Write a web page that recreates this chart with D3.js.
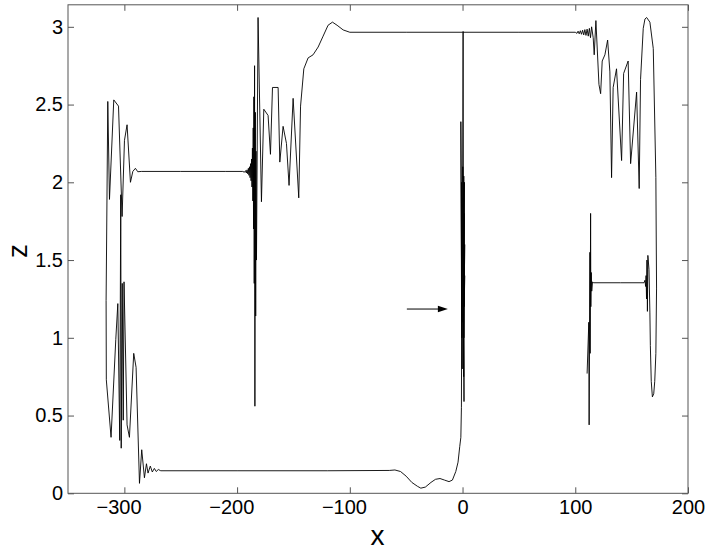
<!DOCTYPE html>
<html>
<head>
<meta charset="utf-8">
<script src="https://cdn.jsdelivr.net/npm/d3@7"></script>
<style>
  html, body { margin: 0; padding: 0; background: #fff; }
  svg { display: block; font-family: "Liberation Sans", Arial, Helvetica, sans-serif; }
</style>
</head>
<body>
<svg id="chart" width="711" height="553"></svg>
<script>
// ---------------- data ----------------
const xTicks = [-300, -200, -100, 0, 100, 200];
const xTickLabels = ["\u2212300", "\u2212200", "\u2212100", "0", "100", "200"];
const zTicks = [0, 0.5, 1, 1.5, 2, 2.5, 3];
const zTickLabels = ["0", "0.5", "1", "1.5", "2", "2.5", "3"];
const xDomain = [-350, 200];
const zDomain = [0, Math.PI];
const xLabel = "x";
const zLabel = "z";

// upper branch: left cluster -> plateau 2.07 -> cluster near -185 -> plateau 2.97 -> right cluster -> loop -> plateau 1.35
const upperX = [
  -316.2, -314.7, -313.2, -309.4, -305.2, -302.0, -299.9, -297.6, -294.6, -292.5, -290.2, -288.1, -285.0, -250.0, -210.0,
  -195.0, -193.5, -192.5, -191.8, -191.2, -190.6, -190.0, -189.5, -189.0, -188.5, -188.0, -187.6, -187.2, -186.8, -186.4,
  -186.0, -185.7, -185.4, -185.1, -184.8, -184.5, -184.2, -183.8, -183.5, -183.2, -182.8, -181.4, -178.4, -176.3, -172.5,
  -170.4, -168.6, -163.6, -162.1, -159.2, -156.2, -153.9, -150.3, -145.3, -143.7, -140.8, -137.0, -132.6, -128.1, -123.7,
  -119.3, -115.4, -111.3, -105.9, -100.0, -50.0, 0.0, 50.0, 100.0,
  101.5, 102.5, 103.5, 104.5, 105.5, 106.5, 107.5, 108.5, 109.5, 110.5, 111.5, 112.5, 113.5, 114.5, 115.9, 116.8, 118.3,
  121.0, 122.5, 123.9, 126.3, 128.7, 130.7, 132.2, 133.6, 136.6, 141.1, 142.9, 146.9, 149.1, 154.4, 156.7, 157.9, 160.3,
  161.8, 163.3, 166.2, 169.2, 171.5, 172.1, 171.5, 170.5, 169.6, 168.4, 167.4, 166.6, 166.2, 165.4, 164.4, 164.0, 163.6,
  163.2, 162.8, 162.4, 161.8, 161.0, 140.0, 116.0, 115.3, 114.6, 114.2, 113.8, 113.6, 113.2, 113.0, 112.3, 112.0, 110.5
];
const upperZ = [
  1.24, 2.52, 1.89, 2.53, 2.49, 1.78, 2.27, 2.37, 2.00, 2.07, 2.09, 2.068, 2.07, 2.07, 2.07,
  2.07, 2.065, 2.075, 2.06, 2.08, 2.055, 2.09, 2.045, 2.10, 2.03, 2.12, 2.01, 2.15, 1.97, 2.22,
  1.88, 2.35, 1.70, 2.55, 1.35, 2.75, 0.56, 2.45, 1.14, 2.20, 1.50, 3.06, 1.875, 2.47, 2.43,
  2.18, 2.61, 2.61, 2.13, 2.36, 2.25, 1.98, 2.54, 1.90, 2.49, 2.73, 2.80, 2.82, 2.87, 2.94,
  3.01, 3.03, 3.01, 2.98, 2.965, 2.965, 2.965, 2.965, 2.965,
  2.958, 2.972, 2.955, 2.975, 2.952, 2.978, 2.948, 2.982, 2.945, 2.985, 2.94, 2.99, 2.93, 3.00, 2.93, 2.82, 3.04,
  2.63, 2.57, 2.78, 2.82, 2.915, 2.71, 2.03, 2.61, 2.73, 2.14, 2.70, 2.78, 2.12, 2.58, 1.96, 2.66, 2.99,
  3.05, 3.06, 3.03, 2.86, 2.03, 1.32, 0.90, 0.72, 0.64, 0.62, 0.72, 0.95, 1.16, 1.44, 1.53, 1.17, 1.50,
  1.25, 1.40, 1.33, 1.37, 1.354, 1.354, 1.354, 1.36, 1.30, 1.42, 1.20, 1.80, 0.90, 1.55, 0.44, 1.10, 0.77
];

// lower branch: left cluster -> plateau 0.15 -> dip -> rise into cluster at x = 0
const lowerX = [
  -316.2, -316.0, -311.8, -307.6, -305.8, -304.1, -303.2, -302.8, -301.9, -301.0, -300.3, -297.6, -295.5, -291.7, -289.6,
  -286.6, -284.6, -282.2, -280.4, -279.0, -277.0, -275.2, -273.4, -271.7, -269.9, -267.7, -200.0, -120.0, -65.0,
  -60.0, -55.0, -50.0, -45.0, -40.0, -37.0, -33.0, -28.0, -24.0, -20.0, -16.0, -12.0, -9.0, -6.0, -4.0,
  -2.5, -1.5, -1.0, -0.8, -1.5, -0.6, -0.9, -0.3, 0.5, 0.8, 0.2, 1.0, 0.6, 1.3, 1.1,
  0.4, 1.5, 0.9, 1.7, 1.2, 1.9, 1.4, 2.0
];
const lowerZ = [
  1.24, 0.73, 0.36, 0.99, 1.22, 0.34, 1.92, 0.29, 1.35, 0.47, 1.36, 0.44, 0.36, 0.90, 0.81,
  0.064, 0.28, 0.10, 0.19, 0.13, 0.175, 0.137, 0.16, 0.14, 0.153, 0.145, 0.145, 0.145, 0.147,
  0.15, 0.14, 0.11, 0.07, 0.045, 0.033, 0.04, 0.07, 0.09, 0.095, 0.085, 0.075, 0.085, 0.14, 0.20,
  0.30, 0.36, 0.55, 1.05, 2.39, 1.00, 2.00, 0.80, 2.97, 1.20, 2.10, 0.75, 1.90, 0.59, 2.04,
  1.10, 1.80, 1.30, 2.00, 1.00, 1.60, 1.20, 1.40
];

// annotation arrow
const arrowX = [-49.4, -13.0];
const arrowZ = [1.185, 1.185];

// ---------------- drawing ----------------
const W = 711, H = 553;
const margin = { left: 68, top: 4.8, right: 23, bottom: 59.7 };
const svg = d3.select("#chart");
svg.append("rect").attr("width", W).attr("height", H).attr("fill", "#fff");

const xs = d3.scaleLinear().domain(xDomain).range([margin.left, W - margin.right]);
const zs = d3.scaleLinear().domain(zDomain).range([H - margin.bottom, margin.top]);

const axisColor = "#555";
const g = svg.append("g");

function styleAxis(sel) {
  sel.select(".domain").remove();
  sel.selectAll(".tick line").attr("stroke", axisColor).attr("stroke-width", 1);
  sel.selectAll(".tick text").attr("fill", "#000").attr("font-size", 20)
     .attr("font-family", "Liberation Sans, Arial, sans-serif");
}

const axBottom = g.append("g").attr("transform", `translate(0,${zs(0)})`)
  .call(d3.axisBottom(xs).tickValues(xTicks).tickFormat((d, i) => xTickLabels[i])
        .tickSizeInner(-6).tickSizeOuter(0).tickPadding(7));
styleAxis(axBottom);
// center digits on the tick, letting the minus sign hang to the left
axBottom.selectAll(".tick text").each(function (d, i) {
  const t = d3.select(this);
  const lab = xTickLabels[i];
  if (lab.startsWith("\u2212")) {
    const full = this.getComputedTextLength();
    t.text(lab.slice(1));
    const digits = this.getComputedTextLength();
    t.text(lab);
    t.attr("dx", -(full - digits) / 2);
  }
});

const axTop = g.append("g").attr("transform", `translate(0,${zs(zDomain[1])})`)
  .call(d3.axisTop(xs).tickValues(xTicks).tickFormat("").tickSizeInner(-6).tickSizeOuter(0));
styleAxis(axTop);

const axLeft = g.append("g").attr("transform", `translate(${xs(xDomain[0])},0)`)
  .call(d3.axisLeft(zs).tickValues(zTicks).tickFormat((d, i) => zTickLabels[i])
        .tickSizeInner(-6).tickSizeOuter(0).tickPadding(5));
styleAxis(axLeft);

const axRight = g.append("g").attr("transform", `translate(${xs(xDomain[1])},0)`)
  .call(d3.axisRight(zs).tickValues(zTicks).tickFormat("").tickSizeInner(-6).tickSizeOuter(0));
styleAxis(axRight);

// box
g.append("rect")
  .attr("x", xs(xDomain[0])).attr("y", zs(zDomain[1]))
  .attr("width", xs(xDomain[1]) - xs(xDomain[0]))
  .attr("height", zs(zDomain[0]) - zs(zDomain[1]))
  .attr("fill", "none").attr("stroke", axisColor).attr("stroke-width", 1);

// clip
svg.append("clipPath").attr("id", "clip").append("rect")
  .attr("x", xs(xDomain[0])).attr("y", zs(zDomain[1]))
  .attr("width", xs(xDomain[1]) - xs(xDomain[0]))
  .attr("height", zs(zDomain[0]) - zs(zDomain[1]));

const line = d3.line().x(d => xs(d[0])).y(d => zs(d[1]));
const plot = svg.append("g").attr("clip-path", "url(#clip)");

plot.append("path")
  .datum(upperX.map((v, i) => [v, upperZ[i]]))
  .attr("d", line).attr("fill", "none").attr("stroke", "#000")
  .attr("stroke-width", 0.9).attr("stroke-linejoin", "miter").attr("stroke-miterlimit", 2);

plot.append("path")
  .datum(lowerX.map((v, i) => [v, lowerZ[i]]))
  .attr("d", line).attr("fill", "none").attr("stroke", "#000")
  .attr("stroke-width", 0.9).attr("stroke-linejoin", "miter").attr("stroke-miterlimit", 2);

// arrow
const ax0 = xs(arrowX[0]), ax1 = xs(arrowX[1]), ay = zs(arrowZ[0]);
plot.append("line").attr("x1", ax0).attr("y1", ay).attr("x2", ax1 - 8).attr("y2", ay)
  .attr("stroke", "#000").attr("stroke-width", 1);
plot.append("path")
  .attr("d", `M${ax1},${ay} L${ax1 - 10},${ay - 3.2} L${ax1 - 10},${ay + 3.2} Z`)
  .attr("fill", "#000");

// axis labels
svg.append("text").attr("x", (xs(xDomain[0]) + xs(xDomain[1])) / 2 - 0.5).attr("y", 545)
  .attr("text-anchor", "middle").attr("font-size", 28).attr("fill", "#000").text(xLabel);
svg.append("text")
  .attr("transform", `translate(27,${(zs(0) + zs(zDomain[1])) / 2 + 2}) rotate(-90)`)
  .attr("text-anchor", "middle").attr("font-size", 28).attr("fill", "#000").text(zLabel);
</script>
</body>
</html>
